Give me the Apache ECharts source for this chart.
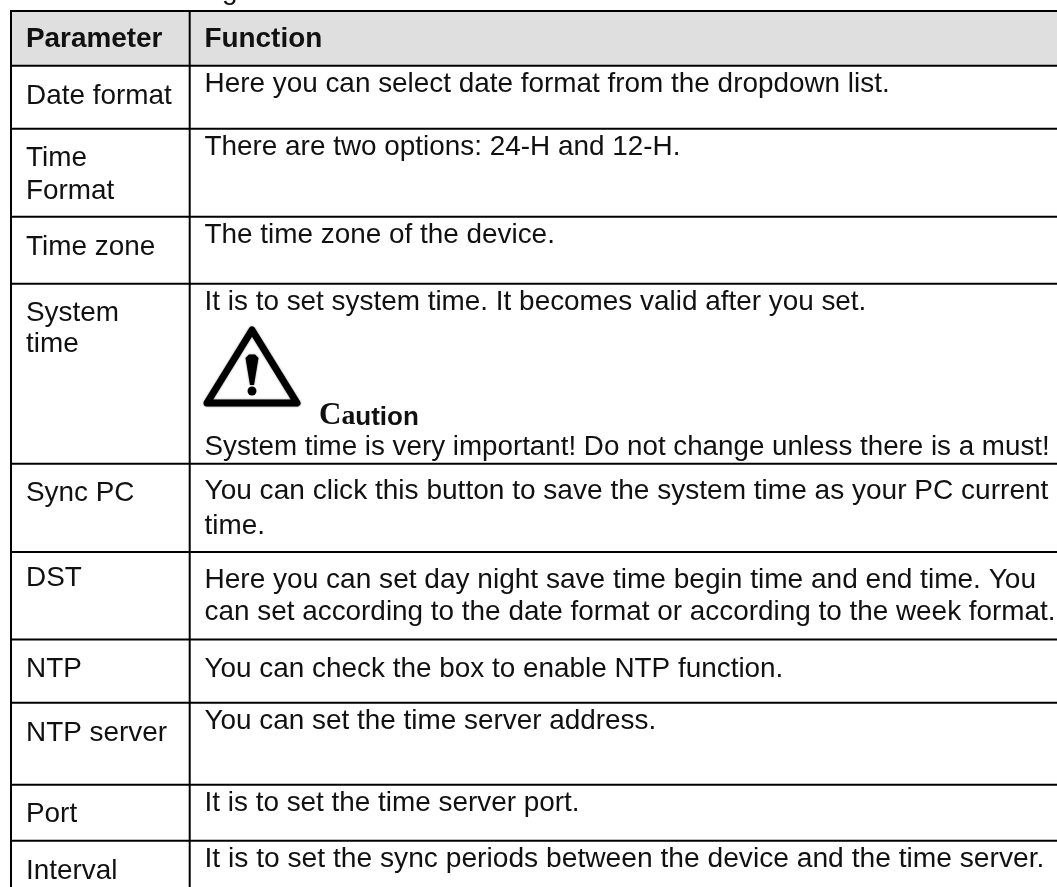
<!DOCTYPE html>
<html><head><meta charset="utf-8">
<style>html,body{margin:0;padding:0;background:#fff}#c{width:1057px;height:887px}</style>
<script src="https://cdn.jsdelivr.net/npm/echarts@6/dist/echarts.min.js"></script>
</head><body><div id="c"></div>
<script>
const headers = ['Parameter', 'Function'];
const parameters = ['Date format', 'Time\nFormat', 'Time zone', 'System\ntime', 'Sync PC', 'DST', 'NTP', 'NTP server', 'Port', 'Interval'];
const functions = [
  'Here you can select date format from the dropdown list.',
  'There are two options: 24-H and 12-H.',
  'The time zone of the device.',
  'It is to set system time. It becomes valid after you set.',
  'You can click this button to save the system time as your PC current\ntime.',
  'Here you can set day night save time begin time and end time. You\ncan set according to the date format or according to the week format.',
  'You can check the box to enable NTP function.',
  'You can set the time server address.',
  'It is to set the time server port.',
  'It is to set the sync periods between the device and the time server.'
];
const cautionText = 'System time is very important! Do not change unless there is a must!';
const captionFragment = 'g';

// layout (axis units are page pixels)
const FS = 27.9;
const rowEdges = [11, 65.7, 128.7, 216.7, 283.7, 463.7, 552, 639.5, 702.7, 784.7, 840.7, 900];
const colEdges = [11, 189.7, 1057];
const paramBase = [[104], [166.7, 199], [255], [321, 352], [501.7], [586.7], [677.7], [741], [822.7], [879]];
const funcBase = [[92.7], [155.7], [243], [310], [499, 534], [588, 620], [677.7], [729.7], [811], [867]];
const funcScale = [[1], [1], [1], [1], [1.006, 1], [1.006, 1], [1], [1], [1], [1.011]];
const COLX = [26, 204.5];

const texts = [];
const T = (s, x, base, extra) => texts.push(Object.assign({ value: [x, base], s }, extra || {}));
T(captionFragment, 222, -1);
T(headers[0], COLX[0], 47.7, { bold: true });
T(headers[1], COLX[1], 47.7, { bold: true });
parameters.forEach((p, i) => p.split('\n').forEach((l, j) => T(l, COLX[0], paramBase[i][j])));
functions.forEach((p, i) => p.split('\n').forEach((l, j) => T(l, COLX[1], funcBase[i][j], { k: funcScale[i][j] })));
T('{c|C}{a|a}{u|ution}', 319, 424, { caution: true });
T(cautionText, COLX[1], 456, { k: 0.995 });

const grid = [];
rowEdges.slice(0, -1).forEach(y => grid.push([colEdges[0] - 1, y, colEdges[2], y]));
colEdges.slice(0, 2).forEach(x => grid.push([x, rowEdges[0], x, 887]));

const chart = echarts.init(document.getElementById('c'), null, { renderer: 'canvas', width: 1057, height: 887 });
chart.setOption({
  animation: false,
  backgroundColor: '#fff',
  grid: { left: 0, top: 0, width: 1057, height: 887, containLabel: false },
  xAxis: { type: 'value', min: 0, max: 1057, show: false },
  yAxis: { type: 'value', min: 0, max: 887, inverse: true, show: false },
  tooltip: { show: false },
  series: [
    { // header band
      type: 'custom', coordinateSystem: 'cartesian2d', silent: true, clip: true, z: 1,
      data: [[colEdges[0], rowEdges[0], colEdges[2], rowEdges[1]]],
      renderItem: (p, api) => {
        const a = api.coord([api.value(0), api.value(1)]), b = api.coord([api.value(2), api.value(3)]);
        return { type: 'rect', shape: { x: a[0], y: a[1], width: b[0] - a[0], height: b[1] - a[1] }, style: { fill: '#dfdfdf' } };
      }
    },
    { // rules
      type: 'custom', coordinateSystem: 'cartesian2d', silent: true, clip: true, z: 2,
      data: grid,
      renderItem: (p, api) => {
        const a = api.coord([api.value(0), api.value(1)]), b = api.coord([api.value(2), api.value(3)]);
        return { type: 'line', shape: { x1: a[0], y1: a[1], x2: b[0], y2: b[1] }, style: { stroke: '#000', lineWidth: 2 } };
      }
    },
    { // warning triangle
      type: 'custom', coordinateSystem: 'cartesian2d', silent: true, clip: true, z: 3,
      data: [[252, 330]],
      renderItem: (p, api) => {
        const c = api.coord([api.value(0), api.value(1)]);
        const x = c[0], y = c[1];
        return { type: 'group', children: [
          { type: 'polygon', shape: { points: [[x, y], [x + 45, y + 73], [x - 45, y + 73]] },
            style: { fill: 'none', stroke: '#000', lineWidth: 7, lineJoin: 'round', shadowColor: 'rgba(0,0,0,0.5)', shadowBlur: 2 } },
          { type: 'polygon', shape: { points: [[x - 6.5, y + 28], [x - 3, y + 24.5], [x + 3, y + 24.5], [x + 6.5, y + 28], [x + 2, y + 55], [x - 2, y + 55]] },
            style: { fill: '#000', shadowColor: 'rgba(0,0,0,0.5)', shadowBlur: 2 } },
          { type: 'circle', shape: { cx: x, cy: y + 61, r: 4.5 }, style: { fill: '#000' } }
        ] };
      }
    },
    { // text
      type: 'custom', coordinateSystem: 'cartesian2d', silent: true, clip: false, z: 4,
      data: texts,
      renderItem: (p, api) => {
        const d = texts[p.dataIndex];
        const c = api.coord([api.value(0), api.value(1)]);
        if (d.caution) {
          const rt = (font) => ({ font, fill: '#111', lineHeight: 32, verticalAlign: 'bottom' });
          return { type: 'text', x: c[0], y: c[1] - 9, style: { text: d.s, align: 'left', verticalAlign: 'middle',
            rich: { c: rt('bold 31px "Liberation Serif", serif'), a: rt('bold 27.8px "Liberation Serif", serif'), u: rt('bold 26px "Liberation Sans", sans-serif') } } };
        }
        const size = FS * (d.k || 1);
        const font = (d.bold ? 'bold ' : '') + size + 'px "Liberation Sans", Arial, sans-serif';
        return { type: 'text', x: c[0], y: c[1] - 0.3465 * FS + 1.5, style: { text: d.s, font, fill: '#111', align: 'left', verticalAlign: 'middle', lineHeight: FS } };
      }
    }
  ]
});
</script></body></html>
